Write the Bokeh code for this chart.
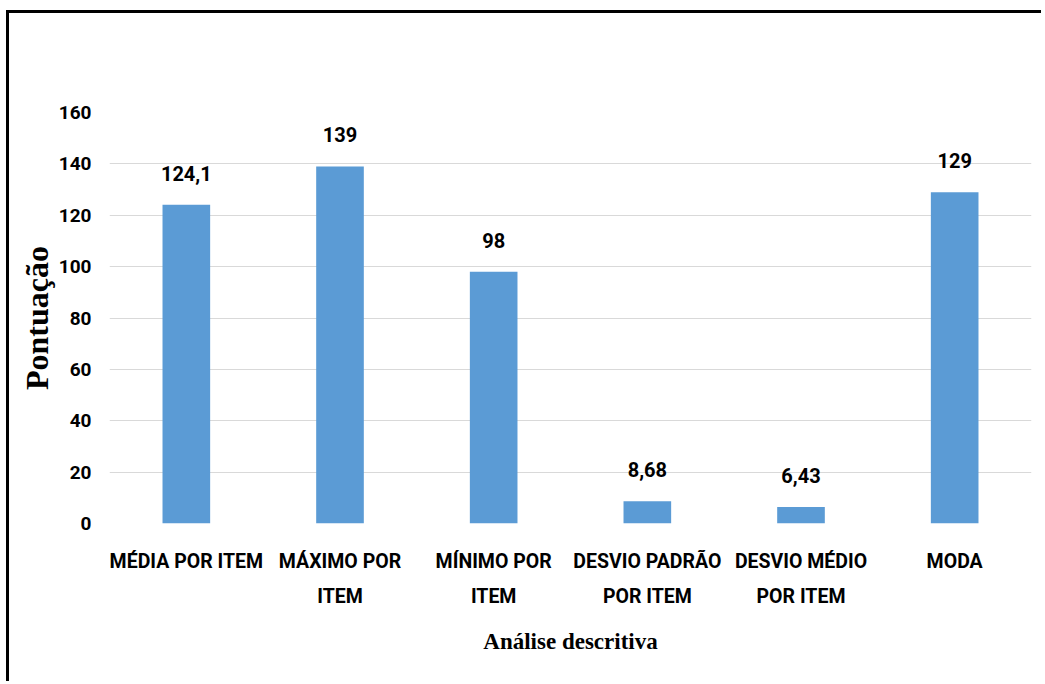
from bokeh.plotting import figure
from bokeh.models import ColumnDataSource, LabelSet, FixedTicker, Range1d, FactorRange
from bokeh.embed import file_html
from bokeh.resources import INLINE
from bokeh.core.properties import value

categories = ["MÉDIA POR ITEM", "MÁXIMO POR\nITEM", "MÍNIMO POR\nITEM",
              "DESVIO PADRÃO\nPOR ITEM", "DESVIO MÉDIO\nPOR ITEM", "MODA"]
values = [124.1, 139, 98, 8.68, 6.43, 129]
value_labels = ["124,1", "139", "98", "8,68", "6,43", "129"]
y_ticks = [0, 20, 40, 60, 80, 100, 120, 140, 160]

SANS = "Roboto"
SERIF = "Liberation Serif"

src = ColumnDataSource(dict(cat=categories, val=values, lab=value_labels))

p = figure(x_range=FactorRange(*categories), y_range=Range1d(0, 160),
           width=1035, height=671, output_backend="svg", toolbar_location=None,
           min_border_left=100, min_border_right=13, min_border_top=99, min_border_bottom=161)
p.styles = {"border-left": "3px solid black", "border-top": "3px solid black",
            "margin-left": "6px", "margin-top": "10px"}
p.outline_line_color = None
p.background_fill_color = "white"
p.border_fill_color = "white"

p.vbar(x="cat", top="val", width=0.31, source=src, fill_color="#5B9BD5", line_color=None)

labels = LabelSet(x="cat", y="val", text="lab", source=src, y_offset=24,
                  text_align="center", text_baseline="alphabetic",
                  text_font=value(SANS), text_font_style="bold", text_font_size="20px",
                  text_color="#000000")
p.add_layout(labels)

p.xgrid.grid_line_color = None
p.ygrid.grid_line_color = "#D9D9D9"
p.ygrid.grid_line_width = 1
p.yaxis.ticker = FixedTicker(ticks=y_ticks)

for ax in (p.xaxis[0], p.yaxis[0]):
    ax.axis_line_color = None
    ax.major_tick_line_color = None
    ax.minor_tick_line_color = None
    ax.major_label_text_font = SANS
    ax.major_label_text_font_style = "bold"
    ax.major_label_text_color = "#000000"
    ax.axis_label_text_font = SERIF
    ax.axis_label_text_font_style = "bold"
    ax.axis_label_text_color = "#000000"

p.yaxis.major_label_text_font_size = "19px"
p.xaxis.major_label_text_font_size = "19.5px"
p.yaxis.major_label_standoff = 12
p.xaxis.major_label_standoff = 20
p.xaxis.major_label_text_line_height = 1.53
p.xaxis.axis_label = "Análise descritiva"
p.xaxis.axis_label_text_font_size = "23px"
p.xaxis.axis_label_standoff = 18
p.yaxis.axis_label = "Pontuação"
p.yaxis.axis_label_text_font_size = "32px"
p.yaxis.axis_label_standoff = 1

open("out.html", "w").write(file_html(p, INLINE))
